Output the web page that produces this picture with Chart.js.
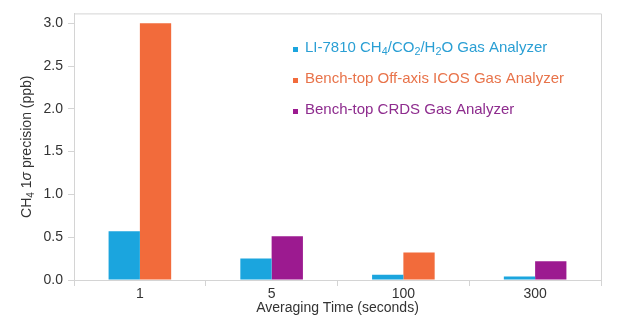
<!DOCTYPE html>
<html>
<head>
<meta charset="utf-8">
<script src="https://cdn.jsdelivr.net/npm/chart.js@4/dist/chart.umd.min.js"></script>
<style>
  html, body { margin: 0; padding: 0; background: #fff; }
  #wrap { width: 620px; height: 326px; }
</style>
</head>
<body>
<div id="wrap"><canvas id="precisionChart" width="620" height="326"></canvas></div>
<script>
// averaging times on the x axis
const categories = ['1', '5', '100', '300'];

// CH4 1-sigma precision (ppb) per analyzer; null = not measured
const li7810Values = [0.57, 0.25, 0.06, 0.04];
const icosValues = [3.0, null, 0.32, null];
const crdsValues = [null, 0.51, null, 0.22];

const seriesLabels = [
    'LI-7810 CH₄/CO₂/H₂O Gas Analyzer',
    'Bench-top Off-axis ICOS Gas Analyzer',
    'Bench-top CRDS Gas Analyzer'
];
const seriesColors = ['#1ba5de', '#f26b3b', '#9c1a90'];
const legendTextColors = ['#2a9fd4', '#e8734a', '#8e2c8e'];

const yAxisTitle = 'CH₄ 1σ precision (ppb)';
const xAxisTitle = 'Averaging Time (seconds)';

const FONT = '"Liberation Sans", Arial, sans-serif';
const SUBS = '₀₁₂₃₄₅₆₇₈₉';

// split a label into runs so subscripts and sigma can be styled
function parseRich(str) {
    const parts = [];
    for (const ch of str) {
        let part;
        const si = SUBS.indexOf(ch);
        if (si >= 0) part = { t: String(si), sub: true };
        else if (ch === 'σ') part = { t: ch, italic: true };
        else part = { t: ch };
        const last = parts[parts.length - 1];
        if (last && !!last.sub === !!part.sub && !!last.italic === !!part.italic) last.t += part.t;
        else parts.push(part);
    }
    return parts;
}

function richWidth(ctx, parts, size) {
    let w = 0;
    parts.forEach(p => {
        const fs = p.sub ? size * 0.72 : size;
        ctx.font = (p.italic ? 'italic ' : '') + fs + 'px ' + FONT;
        w += ctx.measureText(p.t).width;
    });
    return w;
}

function drawRich(ctx, parts, x, y, size) {
    let cx = x;
    parts.forEach(p => {
        const fs = p.sub ? size * 0.72 : size;
        ctx.font = (p.italic ? 'italic ' : '') + fs + 'px ' + FONT;
        ctx.fillText(p.t, cx, y + (p.sub ? size * 0.28 : 0));
        cx += ctx.measureText(p.t).width;
    });
}

// frame on top/right, rich y title and the in-plot legend
const decorations = {
    id: 'decorations',
    afterDraw(chart) {
        const ctx = chart.ctx;
        const area = chart.chartArea;
        ctx.save();
        ctx.strokeStyle = '#d4d4d4';
        ctx.lineWidth = 1;
        ctx.beginPath();
        ctx.moveTo(area.left, area.top + 0.5);
        ctx.lineTo(area.right + 0.5, area.top + 0.5);
        ctx.lineTo(area.right + 0.5, area.bottom);
        ctx.stroke();

        // y axis title
        ctx.textBaseline = 'middle';
        ctx.fillStyle = '#333';
        const yParts = parseRich(yAxisTitle);
        const w = richWidth(ctx, yParts, 14);
        ctx.translate(27, (area.top + area.bottom) / 2);
        ctx.rotate(-Math.PI / 2);
        drawRich(ctx, yParts, -w / 2, 0, 14);
        ctx.restore();

        // legend
        ctx.save();
        ctx.textBaseline = 'middle';
        chart.data.datasets.forEach((ds, i) => {
            const y = 48 + i * 31;
            ctx.fillStyle = ds.backgroundColor;
            ctx.fillRect(293, y - 1, 5, 5);
            ctx.fillStyle = legendTextColors[i];
            drawRich(ctx, parseRich(ds.label), 305, y, 15);
        });
        ctx.restore();
    }
};

const datasets = [li7810Values, icosValues, crdsValues].map((values, i) => ({
    label: seriesLabels[i],
    data: values,
    backgroundColor: seriesColors[i],
    borderWidth: 0,
    skipNull: true,
    categoryPercentage: 0.475,
    barPercentage: 1.0
}));

new Chart(document.getElementById('precisionChart'), {
    type: 'bar',
    data: { labels: categories, datasets: datasets },
    plugins: [decorations],
    options: {
        responsive: false,
        animation: false,
        layout: { padding: { top: 10, right: 19, left: 0, bottom: 0 } },
        plugins: {
            legend: { display: false },
            tooltip: { enabled: true }
        },
        scales: {
            x: {
                afterFit(scale) { scale.height = 46; },
                grid: {
                    offset: true,
                    drawOnChartArea: false,
                    drawTicks: true,
                    tickLength: 6,
                    color: '#d4d4d4'
                },
                border: { color: '#d4d4d4' },
                ticks: {
                    color: '#333',
                    padding: 0,
                    font: { family: FONT, size: 14 }
                },
                title: {
                    display: true,
                    text: xAxisTitle,
                    color: '#333',
                    padding: { top: 0, bottom: 9 },
                    font: { family: FONT, size: 14 }
                }
            },
            y: {
                min: 0,
                max: 3.115,
                afterFit(scale) { scale.width = 74; },
                grid: {
                    drawOnChartArea: false,
                    drawTicks: true,
                    tickLength: 6,
                    color: '#d4d4d4'
                },
                border: { color: '#d4d4d4' },
                ticks: {
                    stepSize: 0.5,
                    includeBounds: false,
                    padding: 5,
                    color: '#333',
                    font: { family: FONT, size: 14 },
                    callback: v => v.toFixed(1)
                }
            }
        }
    }
});
</script>
</body>
</html>
